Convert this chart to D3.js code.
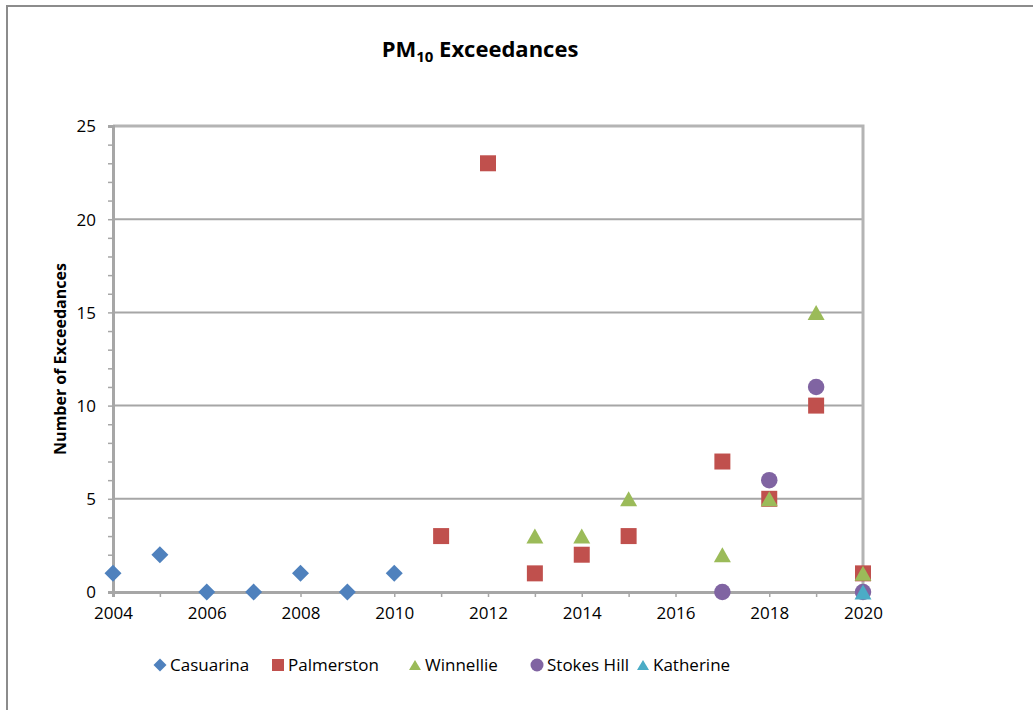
<!DOCTYPE html>
<html>
<head>
<meta charset="utf-8">
<script src="https://cdn.jsdelivr.net/npm/d3@7"></script>
<style>
  html, body { margin: 0; padding: 0; background: #fff; }
  svg { display: block; font-family: "Open Sans", Lato, sans-serif; }
</style>
</head>
<body>
<svg id="chart" width="1033" height="710"></svg>
<script>
// Station series: [year, number of exceedances]
const casuarina  = [[2004, 1], [2005, 2], [2006, 0], [2007, 0], [2008, 1], [2009, 0], [2010, 1]];
const palmerston = [[2011, 3], [2012, 23], [2013, 1], [2014, 2], [2015, 3], [2017, 7], [2018, 5], [2019, 10], [2020, 1]];
const winnellie  = [[2013, 3], [2014, 3], [2015, 5], [2017, 2], [2018, 5], [2019, 15], [2020, 1]];
const stokesHill = [[2017, 0], [2018, 6], [2019, 11], [2020, 0]];
const katherine  = [[2020, 0]];

const seriesNames = ["Casuarina", "Palmerston", "Winnellie", "Stokes Hill", "Katherine"];
const xTickLabels = [2004, 2006, 2008, 2010, 2012, 2014, 2016, 2018, 2020];
const yTickLabels = [0, 5, 10, 15, 20, 25];

const series = [
  { name: seriesNames[0], data: casuarina,  color: "#4F81BD", shape: "diamond" },
  { name: seriesNames[1], data: palmerston, color: "#C0504D", shape: "square" },
  { name: seriesNames[2], data: winnellie,  color: "#9BBB59", shape: "triangle" },
  { name: seriesNames[3], data: stokesHill, color: "#8064A2", shape: "circle" },
  { name: seriesNames[4], data: katherine,  color: "#4BACC6", shape: "triangle" }
];

const FONT = '"Open Sans", Lato, sans-serif';
const svg = d3.select("#chart");

// outer chart frame
svg.append("path")
  .attr("d", "M7,712 V6 H1040")
  .attr("fill", "none").attr("stroke", "#8c8c8c").attr("stroke-width", 2);

const plot = { left: 113, right: 863, top: 126, bottom: 592 };

const x = d3.scaleLinear().domain([2004, 2020]).range([plot.left, plot.right]);
const y = d3.scaleLinear().domain([0, 25]).range([plot.bottom, plot.top]);

const axisColor = "#a6a6a6";
const gridColor = "#a6a6a6";

// horizontal gridlines
svg.append("g").selectAll("line")
  .data(yTickLabels.filter(v => v > 0 && v < 25))
  .join("line")
  .attr("x1", plot.left).attr("x2", plot.right)
  .attr("y1", d => y(d)).attr("y2", d => y(d))
  .attr("stroke", gridColor).attr("stroke-width", 2);

// plot-area border on top and right
svg.append("path")
  .attr("d", `M${plot.left},${y(25)} H${x(2020)} V${plot.bottom}`)
  .attr("fill", "none").attr("stroke", "#b4b4b4").attr("stroke-width", 3);

// y axis: minor ticks every unit, labels every 5
const yAxis = d3.axisLeft(y)
  .tickValues(d3.range(0, 26, 1))
  .tickSize(5)
  .tickFormat(d => yTickLabels.includes(d) ? d : "");
const gy = svg.append("g").attr("transform", `translate(${plot.left},0)`).call(yAxis);
gy.attr("font-family", FONT).attr("font-size", 17);
gy.select(".domain").attr("stroke", axisColor).attr("stroke-width", 3);
gy.selectAll(".tick line").attr("stroke", axisColor).attr("stroke-width", 1.5);
gy.selectAll(".tick text")
  .attr("x", -17).attr("dy", "0.35em").attr("fill", "#000");

// x axis: minor ticks every year, labels every two years
const xAxis = d3.axisBottom(x)
  .tickValues(d3.range(2004, 2021, 1))
  .tickSize(5)
  .tickFormat(d => xTickLabels.includes(d) ? d : "");
const gx = svg.append("g").attr("transform", `translate(0,${plot.bottom})`).call(xAxis);
gx.attr("font-family", FONT).attr("font-size", 17);
gx.select(".domain").attr("stroke", axisColor).attr("stroke-width", 3);
gx.selectAll(".tick line").attr("stroke", axisColor).attr("stroke-width", 1.5);
gx.selectAll(".tick text")
  .attr("y", 15).attr("dy", "0.71em").attr("fill", "#000");

// marker shapes centred on (0,0)
function markerPath(shape, s) {
  const h = s / 2;
  switch (shape) {
    case "diamond":  return `M0,${-h} L${h},0 L0,${h} L${-h},0 Z`;
    case "square":   return `M${-h},${-h} H${h} V${h} H${-h} Z`;
    case "triangle": return `M0,${-h + 1} L${h},${h - 1} L${-h},${h - 1} Z`;
    case "circle":   return d3.arc()({ innerRadius: 0, outerRadius: h, startAngle: 0, endAngle: 2 * Math.PI });
  }
}
const markerSize = { diamond: 17, square: 16, triangle: 17, circle: 16.5 };

const marks = svg.append("g");
series.forEach(s => {
  marks.append("g").selectAll("path")
    .data(s.data)
    .join("path")
    .attr("transform", d => `translate(${x(d[0])},${y(d[1])})`)
    .attr("d", markerPath(s.shape, markerSize[s.shape]))
    .attr("fill", s.color);
});

// title with subscript
const title = svg.append("text")
  .attr("x", 480).attr("y", 57)
  .attr("text-anchor", "middle")
  .attr("font-family", FONT)
  .attr("font-size", 22).attr("font-weight", "bold").attr("fill", "#000");
title.append("tspan").text("PM");
title.append("tspan").attr("font-size", 15).attr("dy", 5).text("10");
title.append("tspan").attr("dy", -5).text(" Exceedances");

// y axis title
svg.append("text")
  .attr("transform", "translate(66,359) rotate(-90)")
  .attr("text-anchor", "middle")
  .attr("font-family", FONT)
  .attr("font-size", 16).attr("font-weight", "bold").attr("fill", "#000")
  .text("Number of Exceedances");

// legend
const legendX = [160, 278, 415, 537, 643];
const legend = svg.append("g").attr("transform", "translate(0,665)");
series.forEach((s, i) => {
  const g = legend.append("g").attr("transform", `translate(${legendX[i]},0)`);
  const sz = s.shape === "diamond" ? 13 : s.shape === "circle" ? 13 : 12;
  g.append("path").attr("d", markerPath(s.shape, sz)).attr("fill", s.color);
  g.append("text").attr("x", 10).attr("dy", "0.35em")
    .attr("font-family", FONT)
    .attr("font-size", 17).attr("fill", "#000").text(s.name);
});
</script>
</body>
</html>
